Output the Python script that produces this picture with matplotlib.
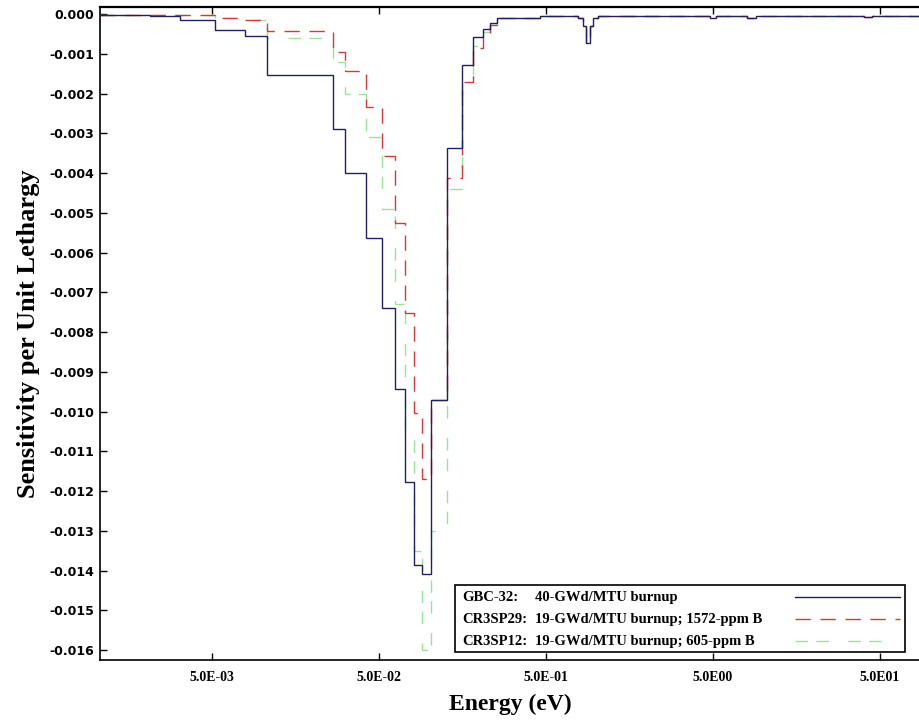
import numpy as np
import matplotlib
matplotlib.use("Agg")
import matplotlib.pyplot as plt
from matplotlib.ticker import FixedLocator, NullLocator
from matplotlib.patches import Rectangle
from matplotlib.lines import Line2D

plt.rcParams['axes.unicode_minus'] = False

# group boundaries (eV)
edges = [1.07e-3, 2.13e-3, 3.22e-3, 5.21e-3, 7.88e-3, 1.07e-2, 2.65e-2, 3.13e-2,
         4.18e-2, 5.21e-2, 6.23e-2, 7.15e-2, 8.10e-2, 9.05e-2, 0.1024, 0.1277,
         0.157, 0.183, 0.210, 0.231, 0.2545, 0.46, 0.778, 0.833, 0.868, 0.917,
         0.956, 1.024, 4.8, 5.21, 7.99, 9.05, 40.0, 45.0, 87.0]

tail = [-0.0001, -0.00006, -0.0001, -0.0003, -0.00073, -0.0003, -0.0001,
        -0.00004, -0.0001, -0.00004, -0.0001, -0.00004, -0.00008, -0.00004]

gbc32 = [-0.00002, -0.00005, -0.00015, -0.0004, -0.00055, -0.00153, -0.0029,
         -0.0040, -0.00564, -0.0074, -0.00943, -0.01177, -0.01386, -0.01409,
         -0.0097, -0.00337, -0.00128, -0.00058, -0.00038, -0.00023] + tail

cr3sp29 = [-0.00002, -0.00003, -0.00003, -0.0001, -0.00015, -0.00043, -0.00096,
           -0.00143, -0.00234, -0.00357, -0.00526, -0.00752, -0.01004, -0.0117,
           -0.0097, -0.00412, -0.00171, -0.00085, -0.00048, -0.00028] + tail

cr3sp12 = [-0.00002, -0.00003, -0.00003, -0.0001, -0.00016, -0.0006, -0.0012,
           -0.0020, -0.0031, -0.0049, -0.0073, -0.0105, -0.0135, -0.0160,
           -0.0130, -0.0044, -0.0016, -0.0008, -0.00045, -0.00025] + tail

prefixes = ["GBC-32:", "CR3SP29:", "CR3SP12:"]
descs = ["40-GWd/MTU burnup",
         "19-GWd/MTU burnup; 1572-ppm B",
         "19-GWd/MTU burnup; 605-ppm B"]

xticks = [5e-3, 5e-2, 5e-1, 5.0, 50.0]
xticklabels = ["5.0E-03", "5.0E-02", "5.0E-01", "5.0E00", "5.0E01"]
yticks = np.arange(0, 17) * -0.001

colors = ['#1f1f66', '#d03a3a', '#9be39b']
styles = ['-', (0, (11, 7)), (0, (9, 6, 9, 14))]

W, H = 920, 722
fig = plt.figure(figsize=(9.2, 7.22), dpi=100)
ax = fig.add_axes([100/W, 62/H, 820/W, 653/H])

series = [gbc32, cr3sp29, cr3sp12]
for i in [2, 1, 0]:
    ax.stairs(series[i], edges, baseline=None, color=colors[i], lw=1.0,
              linestyle=styles[i], zorder=4 - i)

ax.set_xscale('log')
ax.set_xlim(1.07e-3, 87.0)
ax.set_ylim(-0.01625, 0.000176)

ax.xaxis.set_major_locator(FixedLocator(xticks))
ax.xaxis.set_minor_locator(NullLocator())
ax.set_xticklabels(xticklabels, fontfamily='Liberation Serif', fontweight='bold', fontsize=10)
ax.set_yticks(yticks)
ax.set_yticklabels(["%.3f" % v if v != 0 else "0.000" for v in yticks],
                   fontfamily='DejaVu Sans', fontweight='bold', fontsize=9)
ax.tick_params(axis='x', direction='in', top=True, length=5, width=1, pad=8)
ax.tick_params(axis='y', direction='in', length=5, width=1, pad=4)

ax.spines['right'].set_visible(False)
for s in ['left', 'bottom']:
    ax.spines[s].set_linewidth(1.2)
ax.spines['top'].set_linewidth(1.6)

ax.set_xlabel("Energy (eV)", fontfamily='Liberation Serif', fontweight='bold', fontsize=17)
ax.set_ylabel("Sensitivity per Unit Lethargy", fontfamily='Liberation Serif',
              fontweight='bold', fontsize=19)
ax.xaxis.set_label_coords(0.5, -0.052)
ax.yaxis.set_label_coords(-0.073, 0.5)

# legend box drawn by hand so the line samples sit to the right of left-aligned text
fig.add_artist(Rectangle((455/W, (H - 652)/H), 450/W, 67/H, transform=fig.transFigure,
                         facecolor='white', edgecolor='black', lw=1.2, zorder=10))
rows = [597, 619, 641]
for i in range(3):
    yy = (H - rows[i])/H
    yb = (H - rows[i] - 4)/H
    fig.text(462/W, yb, prefixes[i], ha='left', va='baseline', fontfamily='Liberation Serif',
             fontweight='bold', fontsize=10.5, zorder=11)
    fig.text(535/W, yb, descs[i], ha='left', va='baseline', fontfamily='Liberation Serif',
             fontweight='bold', fontsize=10.5, zorder=11)
    fig.add_artist(Line2D([795/W, 900/W], [yy, yy], transform=fig.transFigure,
                          color=colors[i], lw=1.0, linestyle=styles[i], zorder=11))

fig.savefig("out.png", dpi=100)
